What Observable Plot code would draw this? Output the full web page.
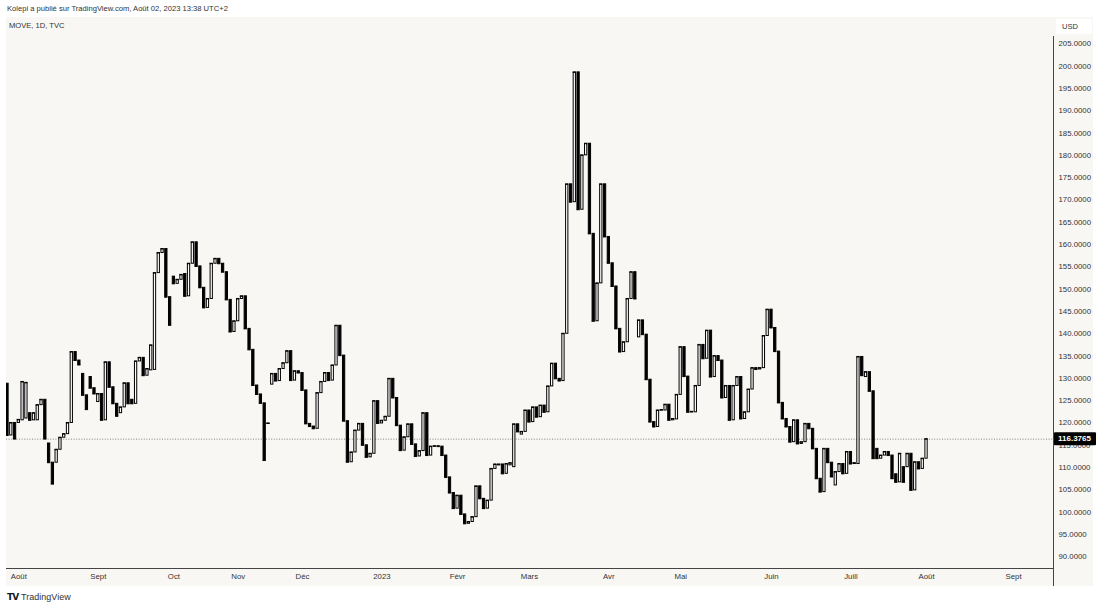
<!DOCTYPE html>
<html><head><meta charset="utf-8">
<script src="https://cdn.jsdelivr.net/npm/d3@7"></script>
<script src="https://cdn.jsdelivr.net/npm/@observablehq/plot@0.6"></script>
<style>
body{margin:0;background:#fff;width:1100px;height:607px;overflow:hidden;position:relative;font-family:"Liberation Sans",Arial,sans-serif;color:#333}
#hdr{position:absolute;left:7px;top:4px;font-size:7.6px;white-space:nowrap}
#panel{position:absolute;left:6px;top:17px;width:1087px;height:569px;background:#f8f7f3}
#legend{position:absolute;left:9px;top:21px;font-size:7.6px;white-space:nowrap}
#usd{position:absolute;left:1056px;top:19px;width:36px;height:15px;background:#fff;border-radius:2px;font-size:7.6px;line-height:15px;text-indent:6px}
#chart{position:absolute;left:0;top:17px}
#footer{position:absolute;left:7px;top:592px;font-size:9px;white-space:nowrap}
#footer b{font-family:"DejaVu Sans";font-weight:900;font-size:9px;letter-spacing:-1px;margin-right:3px;color:#131722}
</style></head>
<body>
<div id="hdr">Kolepi a publié sur TradingView.com, Août 02, 2023 13:38 UTC+2</div>
<div id="panel"></div>
<div id="chart"></div>
<div id="legend">MOVE, 1D, TVC</div>
<div id="usd">USD</div>
<div id="footer"><b>TV</b>TradingView</div>
<script>
const opens = [128.8,117.2,120.0,120.0,120.6,121.0,122.2,120.6,120.6,124.0,
125.2,115.4,111.1,111.1,114.0,116.7,117.5,120.0,135.9,134.0,
131.0,126.2,130.3,127.8,124.7,126.5,120.6,133.6,128.0,124.3,
122.2,123.5,128.9,125.2,124.3,133.8,134.6,130.6,131.8,131.9,
153.6,158.1,159.0,148.2,152.8,151.2,152.1,153.4,148.4,155.7,
160.5,155.1,150.3,145.8,147.8,155.7,156.8,155.7,153.8,147.6,
140.4,142.8,147.8,148.4,141.1,136.4,128.4,126.4,124.4,119.8,
128.6,131.0,129.4,132.1,133.4,136.1,129.5,131.6,131.2,127.3,
119.8,119.2,118.7,126.7,129.2,131.2,129.5,132.9,141.8,135.1,
120.4,111.2,113.4,118.3,119.8,115.0,112.3,113.1,124.9,119.9,
120.5,121.4,129.9,125.6,119.4,113.8,116.8,119.7,115.2,112.5,
113.7,122.2,112.7,114.7,114.8,114.7,112.7,107.8,104.3,100.8,
103.7,99.5,97.4,97.8,98.9,105.8,103.0,100.8,102.6,109.7,
110.7,110.7,108.6,110.5,110.1,119.7,117.4,118.0,122.8,120.2,
123.5,121.3,123.9,122.4,128.2,133.3,129.9,129.4,140.0,173.5,
169.5,198.6,167.8,180.0,182.6,162.4,142.8,151.3,173.5,161.7,
155.8,150.6,141.1,135.9,138.1,147.8,153.8,139.2,143.0,139.8,
129.7,120.2,119.1,122.8,122.8,124.1,120.6,120.8,126.3,137.0,
130.4,122.4,122.4,128.3,137.5,134.4,140.7,130.3,135.0,134.0,
125.6,128.3,120.6,128.3,130.3,120.9,122.4,127.5,132.3,132.0,
132.3,139.5,145.4,141.3,136.0,124.5,120.9,119.1,115.7,120.6,
115.3,115.7,119.8,118.7,114.2,107.5,104.5,114.2,111.1,106.0,
109.0,110.8,108.6,113.5,110.8,110.8,134.8,130.3,131.4,127.1,
114.2,112.0,112.7,113.5,112.7,108.5,106.7,110.1,110.1,113.1,
104.9,111.2,109.7,112.0];
const closes = [117.2,120.0,116.4,120.7,129.2,129.0,120.6,122.2,124.0,125.2,
116.4,111.1,106.3,114.0,116.7,117.5,120.0,135.9,134.0,133.0,
126.2,123.0,127.8,126.5,126.5,120.6,133.6,128.0,124.3,121.5,
123.5,128.9,124.3,124.3,133.8,134.6,130.6,132.1,137.4,153.6,
158.1,159.0,148.2,141.9,151.2,152.1,153.2,148.4,155.7,160.5,
155.1,150.3,145.8,147.8,155.7,156.8,155.7,153.8,147.6,140.4,
142.8,147.8,148.4,141.1,136.4,128.4,126.4,124.4,111.6,119.9,
131.0,129.4,132.1,133.4,136.1,129.5,131.6,131.2,127.3,119.8,
119.2,118.7,126.7,129.2,131.2,129.5,132.9,141.8,135.1,120.4,
111.2,113.4,118.3,119.8,115.0,112.3,113.1,124.9,119.9,120.5,
121.4,129.9,125.6,119.4,113.8,116.8,119.7,115.2,112.5,113.7,
122.2,112.7,114.7,114.8,114.7,112.7,107.8,104.3,100.8,103.7,
99.5,97.4,97.8,98.9,105.8,103.0,100.8,102.6,109.7,110.7,
110.6,108.6,110.8,111.0,119.7,118.0,118.0,122.8,120.2,123.5,
121.3,123.9,122.4,128.2,133.3,129.9,129.4,140.0,173.5,169.5,
198.6,167.8,180.0,182.6,162.4,142.8,151.3,173.5,161.7,155.8,
150.6,141.1,135.9,138.1,147.8,153.8,147.8,143.0,139.8,129.7,
120.2,119.1,122.8,122.9,124.1,120.6,120.9,126.3,137.0,130.4,
122.4,122.5,128.3,137.5,134.4,140.7,130.3,135.0,134.0,125.6,
128.3,120.6,128.3,130.3,120.9,122.4,127.5,132.3,132.0,132.3,
139.5,145.4,141.3,136.0,124.5,120.9,119.1,115.7,120.6,115.3,
115.7,119.8,118.7,114.2,107.5,104.5,114.2,111.1,107.9,109.0,
110.8,108.6,113.5,110.8,111.0,134.8,130.6,131.4,127.1,112.0,
112.0,112.7,113.5,112.7,107.5,106.7,113.1,106.7,113.1,104.9,
111.2,109.7,112.0,116.3765];
const monthLabels = ["Août","Sept","Oct","Nov","Déc","2023","Févr","Mars","Avr","Mai","Juin","Juill","Août","Sept"];
const monthBars = [3,24,44,61,78,99,119,138,159,178,202,223,243,266];
const yTicks = [90,95,100,105,110,115,120,125,130,135,140,145,150,155,160,165,170,175,180,185,190,195,200,205];
const lastPrice = 116.3765;

const candles = closes.map((c, i) => ({i, open: opens[i], close: c}));
const ups = candles.filter(d => d.close >= d.open);
const downs = candles.filter(d => d.close < d.open);

const xDomain = [-0.264, 276.57];
const yDomain = [87.38, 206.64];
const fmt = d3.format(".4f");

const plot = Plot.plot({
  width: 1100, height: 571,
  marginLeft: 6, marginRight: 47, marginTop: 19, marginBottom: 20,
  x: {type: "linear", domain: xDomain, axis: null},
  y: {type: "linear", domain: yDomain, axis: null},
  style: {background: "transparent", fontFamily: "Liberation Sans, Arial, sans-serif", fontSize: "7.8px", color: "#333", overflow: "visible"},
  marks: [
    Plot.ruleY([lastPrice], {stroke: "#666", strokeWidth: 0.8, strokeDasharray: "1,1.6"}),
    Plot.rect(ups, {x1: d => d.i - 0.3, x2: d => d.i + 0.3, y1: "open", y2: "close", fill: "#fff", stroke: "#000", strokeWidth: 1, clip: true}),
    Plot.rect(downs, {x1: d => d.i - 0.3, x2: d => d.i + 0.3, y1: "open", y2: "close", fill: "#000", stroke: "#000", strokeWidth: 1, clip: true}),
    Plot.ruleY(candles, {x1: d => d.i - 0.43, x2: d => d.i + 0.43, y: "close", stroke: "#000", strokeWidth: 1, clip: true}),
    Plot.ruleY([yDomain[0]], {stroke: "#444", strokeWidth: 1}),
    Plot.ruleX([xDomain[1]], {y1: yDomain[1], y2: 83.35, stroke: "#444", strokeWidth: 1}),
    Plot.axisX({ticks: monthBars, tickFormat: d => monthLabels[monthBars.indexOf(d)], tickSize: 0, tickPadding: 5, anchor: "bottom", fill: "#333"}),
    Plot.axisY({ticks: yTicks, tickFormat: fmt, anchor: "right", tickSize: 0, tickPadding: 5, fill: "#333"})
  ]
});
document.getElementById("chart").appendChild(plot);

// last price label on the right axis, positioned with the plot's y scale
const svg = d3.select(plot);
const yPix = plot.scale("y").apply(lastPrice);
const xPix = plot.scale("x").apply(xDomain[1]);
const g = svg.append("g").attr("text-anchor", "start");
g.append("rect").attr("x", xPix + 1).attr("y", yPix - 6.5).attr("width", 42).attr("height", 13).attr("fill", "#000").attr("rx", 1);
g.append("text").attr("x", xPix + 5).attr("y", yPix).attr("dy", "0.35em").attr("fill", "#fff").attr("text-anchor", "start")
  .attr("font-size", "8px").attr("font-weight", "bold").attr("font-family", "Liberation Sans, Arial, sans-serif").text(fmt(lastPrice));
</script>
</body></html>
